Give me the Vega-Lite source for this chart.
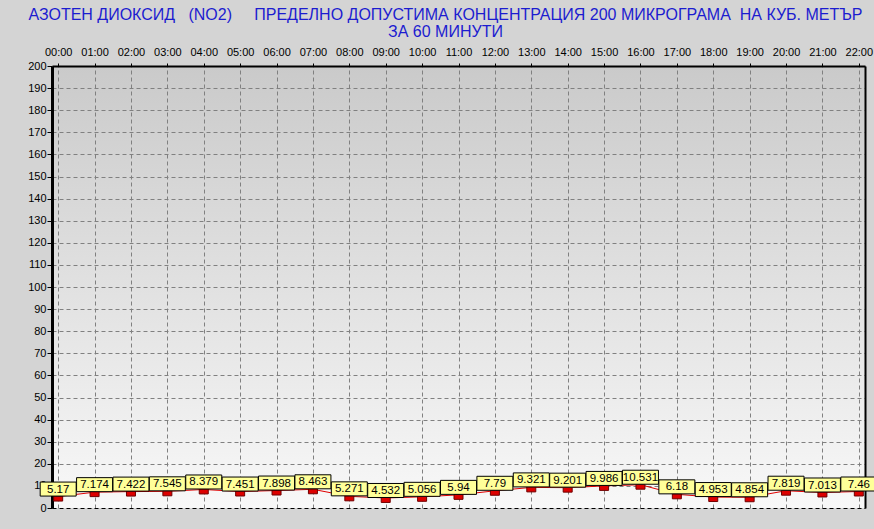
{
  "$schema": "https://vega.github.io/schema/vega-lite/v6.json",
  "autosize": {"type": "none"},
  "padding": {"left": 52, "top": 66, "right": 9, "bottom": 21},
  "width": 813,
  "height": 442,
  "background": "#d4d4d4",
  "view": {
    "stroke": null,
    "fill": {"gradient": "linear", "x1": 0, "y1": 0, "x2": 0, "y2": 1,
      "stops": [{"offset": 0, "color": "#cacaca"}, {"offset": 1, "color": "#f8f8f8"}]}
  },
  "title": {
    "text": ["АЗОТЕН ДИОКСИД\u00a0\u00a0\u00a0(NO2)\u00a0\u00a0\u00a0\u00a0\u00a0ПРЕДЕЛНО ДОПУСТИМА КОНЦЕНТРАЦИЯ 200 МИКРОГРАМА\u00a0\u00a0НА КУБ. МЕТЪР", "ЗА 60 МИНУТИ"],
    "font": "Liberation Sans",
    "fontSize": 16,
    "fontWeight": "normal",
    "color": "#1c1cd0",
    "lineHeight": 17,
    "anchor": "middle",
    "dx": -13,
    "offset": 6
  },
  "data": {"values": [
    {"t": "00:00", "v": 5.17},
    {"t": "01:00", "v": 7.174},
    {"t": "02:00", "v": 7.422},
    {"t": "03:00", "v": 7.545},
    {"t": "04:00", "v": 8.379},
    {"t": "05:00", "v": 7.451},
    {"t": "06:00", "v": 7.898},
    {"t": "07:00", "v": 8.463},
    {"t": "08:00", "v": 5.271},
    {"t": "09:00", "v": 4.532},
    {"t": "10:00", "v": 5.056},
    {"t": "11:00", "v": 5.94},
    {"t": "12:00", "v": 7.79},
    {"t": "13:00", "v": 9.321},
    {"t": "14:00", "v": 9.201},
    {"t": "15:00", "v": 9.986},
    {"t": "16:00", "v": 10.531},
    {"t": "17:00", "v": 6.18},
    {"t": "18:00", "v": 4.953},
    {"t": "19:00", "v": 4.854},
    {"t": "20:00", "v": 7.819},
    {"t": "21:00", "v": 7.013},
    {"t": "22:00", "v": 7.46}
  ]},
  "encoding": {
    "x": {
      "field": "t", "type": "ordinal",
      "scale": {"type": "point", "padding": 0.17},
      "sort": null,
      "axis": {
        "orient": "top", "title": null, "labelAngle": 0,
        "labelFont": "Liberation Sans", "labelFontSize": 11, "labelColor": "#000000",
        "tickSize": 3, "tickColor": "#000000",
        "domainColor": "#000000", "domainWidth": 2,
        "labelPadding": 6,
        "grid": true, "gridColor": "#808080", "gridDash": [4, 3], "gridWidth": 1
      }
    }
  },
  "layer": [
    {
      "mark": {"type": "line", "color": "#e00000", "strokeWidth": 1},
      "encoding": {
        "y": {"field": "v", "type": "quantitative",
          "scale": {"domain": [0, 200], "nice": false, "zero": true},
          "axis": {"orient": "right", "title": null, "labels": false, "ticks": false, "grid": false,
            "domainColor": "#000000", "domainWidth": 2}}
      }
    },
    {
      "mark": {"type": "point", "shape": "M-1,-0.55L1,-0.55L1,0.55L-1,0.55Z", "size": 81,
        "filled": true, "fill": "#dd0000", "stroke": "#700000", "strokeWidth": 1, "opacity": 1, "yOffset": 2},
      "encoding": {
        "y": {"field": "v", "type": "quantitative",
          "axis": {"orient": "left", "title": null,
            "values": [0,10,20,30,40,50,60,70,80,90,100,110,120,130,140,150,160,170,180,190,200],
            "labelFont": "Liberation Sans", "labelFontSize": 11, "labelColor": "#000000",
            "labelPadding": 1, "tickSize": 5, "tickColor": "#000000",
            "domainColor": "#000000", "domainWidth": 3,
            "grid": true, "gridDash": [4, 3], "gridWidth": 1,
            "gridColor": {"condition": {"test": "datum.value === 0", "value": "#000000"}, "value": "#808080"}}}
      }
    },
    {
      "mark": {"type": "point", "shape": "M-1,-0.389L1,-0.389L1,0.389L-1,0.389Z", "size": 1296,
        "filled": true, "fill": "#ffff99", "stroke": "#000000", "strokeWidth": 1, "opacity": 1, "yOffset": -7.5},
      "encoding": {
        "y": {"field": "v", "type": "quantitative", "axis": null}
      }
    },
    {
      "mark": {"type": "text", "font": "Liberation Sans", "fontSize": 11.5, "color": "#000000",
        "align": "center", "baseline": "middle", "yOffset": -7},
      "encoding": {
        "y": {"field": "v", "type": "quantitative", "axis": null},
        "text": {"field": "v", "type": "nominal"}
      }
    }
  ],
  "resolve": {"axis": {"y": "independent"}}
}
